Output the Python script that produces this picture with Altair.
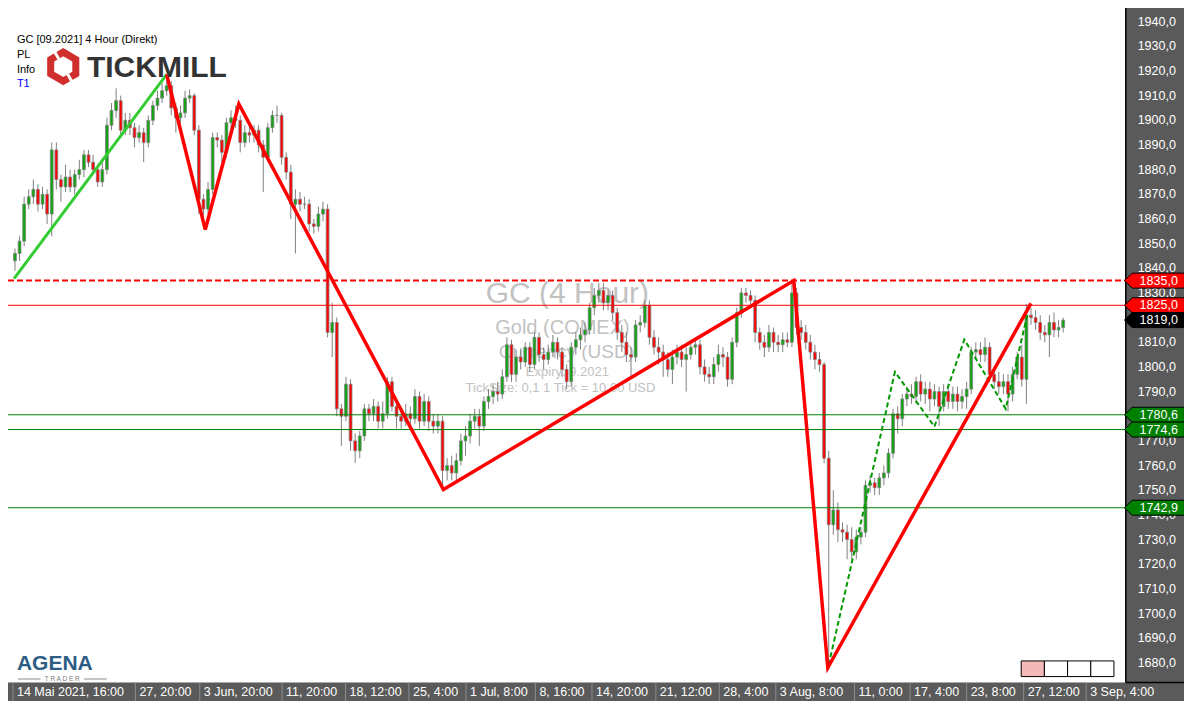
import altair as alt
import pandas as pd

# ---------------- chart values ----------------
first_open = 1843.0
closes = [
    1846, 1851, 1866, 1869, 1872, 1866, 1870, 1862, 1888, 1876,
    1873, 1877, 1873, 1878, 1880, 1886, 1883, 1880, 1875, 1880,
    1898, 1904, 1908, 1896, 1900, 1897, 1893, 1895, 1891, 1900,
    1906, 1909, 1912, 1914, 1905, 1901, 1903, 1909, 1910, 1896,
    1868, 1864, 1872, 1893, 1892, 1887, 1899, 1901, 1900, 1891,
    1895, 1894, 1896, 1890, 1885, 1897, 1902, 1902, 1885, 1879,
    1866, 1868, 1866, 1866, 1858, 1857, 1862, 1864, 1814, 1818,
    1783, 1780, 1793, 1770, 1766, 1772, 1783, 1781, 1784, 1778,
    1781, 1794, 1784, 1780, 1778, 1781, 1779, 1788, 1778, 1786,
    1778, 1776, 1778, 1758, 1760, 1757, 1762, 1770, 1772, 1778,
    1780, 1776, 1786, 1788, 1790, 1789, 1796, 1809, 1797, 1804,
    1802, 1808, 1801, 1812, 1805, 1803, 1806, 1810, 1806, 1799,
    1794, 1808, 1811, 1813, 1815, 1824, 1829, 1831, 1826, 1829,
    1822, 1814, 1810, 1805, 1804, 1817, 1818, 1825, 1812, 1808,
    1806, 1803, 1799, 1804, 1806, 1803, 1805, 1808, 1809, 1800,
    1797, 1796, 1801, 1805, 1804, 1795, 1810, 1822, 1830, 1829,
    1827, 1814, 1810, 1808, 1814, 1810, 1809, 1811, 1810, 1830,
    1816, 1814, 1810, 1806, 1803, 1801, 1763, 1736, 1742, 1734,
    1733, 1730, 1725, 1731, 1733, 1752, 1753, 1751, 1755, 1757,
    1765, 1781, 1779, 1787, 1789, 1788, 1794, 1789, 1791, 1787,
    1790, 1784, 1790, 1786, 1789, 1786, 1788, 1791, 1806, 1807,
    1805, 1808, 1797, 1794, 1792, 1794, 1789, 1797, 1804, 1795,
    1821, 1820, 1818, 1814, 1813, 1818, 1815, 1816, 1819,
]
upper_wick = [
    2, 2, 3, 3, 4, 2, 3, 2, 3, 3,
    2, 5, 3, 2, 4, 2, 2, 3, 2, 3,
    3, 3, 5, 2, 3, 3, 2, 3, 2, 2,
    2, 3, 3, 4.5, 2, 2, 3, 3, 2.5, 1,
    2, 2, 3, 2, 2, 2, 2, 3, 5, 2,
    3, 3, 2, 2, 2, 2, 2, 4, 1, 2,
    3, 4, 3, 3, 2, 2, 3, 3, 2, 8,
    2, 2, 3, 2, 3, 2, 2, 2, 3, 2,
    5, 2, 2, 2, 3, 4, 3, 3, 2, 3,
    2, 3, 3, 2, 3, 4, 3, 3, 4, 3,
    3, 3, 2, 3, 3, 4, 3, 3, 2, 3,
    3, 2, 2, 2, 2, 3, 3, 3, 2, 2,
    2, 2, 3, 3, 3, 2, 3, 3, 3, 2,
    2, 2, 3, 4, 3, 2, 3, 2, 2, 3,
    4, 3, 3, 3, 3, 3, 3, 3, 3, 2,
    3, 3, 3, 4, 3, 2, 2, 2, 2, 2,
    2, 2, 2, 3, 3, 2, 3, 3, 3, 5,
    2, 3, 3, 3, 3, 3, 1, 3, 8, 3,
    3, 3, 5, 3, 2, 2, 3, 2, 2, 3,
    2, 2, 3, 2, 3, 4, 2, 3, 3, 3,
    3, 2, 3, 3, 3, 3, 3, 3, 2, 3,
    3, 4, 2, 3, 4, 3, 3, 3, 2, 5,
    4.5, 3, 3, 3, 3, 3, 4, 3, 1,
]
lower_wick = [
    4, 3, 2, 2, 3, 3, 2, 4, 9, 4,
    6, 2, 2, 3, 2, 3, 2, 2, 2, 2,
    2, 2, 3, 3, 2, 3, 4, 2, 8, 2,
    2, 2, 2, 2, 3, 6, 2, 2, 2, 2,
    6, 8, 2, 2, 3, 4, 2, 3, 3, 4,
    2, 3, 3, 3, 14, 2, 2, 3, 3, 3,
    6, 20, 3, 2, 3, 3, 2, 3, 2, 10,
    3, 12, 2, 4, 5, 3, 2, 3, 3, 3,
    3, 2, 2, 5, 3, 2, 4, 2, 3, 2,
    4, 3, 3, 7, 4, 3, 3, 2, 6, 3,
    3, 8, 2, 3, 3, 3, 2, 2, 3, 3,
    3, 2, 3, 2, 3, 4, 2, 2, 3, 3,
    3, 2, 3, 4, 3, 2, 3, 3, 3, 3,
    3, 3, 4, 3, 8, 2, 3, 2, 3, 3,
    5, 7, 3, 6, 3, 3, 13, 2, 3, 3,
    3, 3, 3, 3, 4, 3, 2, 2, 2, 3,
    3, 4, 3, 4, 2, 4, 3, 3, 2, 2,
    3, 3, 3, 3, 4, 3, 2, 59, 4, 5,
    4, 8, 3, 3, 3, 2, 3, 3, 3, 3,
    2, 2, 6, 3, 3, 3, 3, 3, 4, 5,
    3, 8, 2, 3, 3, 4, 3, 5, 2, 3,
    3, 3, 3, 3, 3, 3, 7, 3, 2, 3,
    10, 3, 3, 3, 3, 9, 3, 3, 2,
]

level_prices = [1835.0, 1825.0, 1780.6, 1774.6, 1742.9]
level_colors = ["#ff0000", "#ff0000", "#008000", "#008000", "#008000"]
level_dashed = [True, False, False, False, False]

tag_prices = [1835.0, 1825.0, 1819.0, 1780.6, 1774.6, 1742.9]
tag_colors = ["#ff0000", "#ff0000", "#000000", "#008000", "#008000", "#008000"]

# 1820,0 is fully hidden behind the price tags in the reference
price_ticks = [1940, 1930, 1920, 1910, 1900, 1890, 1880, 1870, 1860, 1850, 1840,
               1830, 1810, 1800, 1790, 1780, 1770, 1760, 1750, 1740, 1730,
               1720, 1710, 1700, 1690, 1680]

time_tick_bars = [-0.43, 26.2, 40.2, 58.1, 71.9, 85.7, 98.1, 113.2, 125.5, 139.4,
                  153.2, 165.5, 182.6, 194.7, 207.0, 219.4, 233.0]
time_tick_labels = ["14 Mai 2021, 16:00", "27, 20:00", "3 Jun, 20:00", "11, 20:00",
                    "18, 12:00", "25, 4:00", "1 Jul, 8:00", "8, 16:00", "14, 20:00",
                    "21, 12:00", "28, 4:00", "3 Aug, 8:00", "11, 0:00", "17, 4:00",
                    "23, 8:00", "27, 12:00", "3 Sep, 4:00"]

zz_green_bars = [-0.2, 33.0]
zz_green_prices = [1835.8, 1918.6]
zz_red_bars = [33.0, 41.4, 48.7, 93.2, 169.4, 176.8, 221.0]
zz_red_prices = [1918.6, 1855.7, 1906.6, 1750.3, 1835.0, 1678.0, 1825.8]
zz_dash_bars = [177.0, 191.4, 200.0, 206.5, 215.5, 220.3]
zz_dash_prices = [1679.2, 1798.0, 1775.8, 1811.1, 1783.0, 1822.0]

# ---------------- layout ----------------
W, H = 1176, 693
REF_W, REF_H = 1192, 709
X0, DX = 2.0, 4.7


def px(x):
    return x * W / REF_W


def py(y):
    return y * H / REF_H


def bar_of(x):
    return (x - X0) / DX


P_TOP = 1940 + 14 / 2.523
P_BOT = 1940 - (REF_H - 14) / 2.523

xs = alt.Scale(domain=[bar_of(0), bar_of(REF_W)], nice=False, zero=False)
ys = alt.Scale(domain=[P_BOT, P_TOP], nice=False, zero=False)

FONT = "Liberation Sans"
GREEN = "#0ea60e"
RED = "#ff0000"
WICK = "#808080"

opens = [first_open] + closes[:-1]
candles = pd.DataFrame({
    "bar": list(range(len(closes))),
    "open": opens,
    "close": closes,
    "high": [max(o, c) + u for o, c, u in zip(opens, closes, upper_wick)],
    "low": [min(o, c) - l for o, c, l in zip(opens, closes, lower_wick)],
})

X = lambda f: alt.X(f"{f}:Q", scale=xs, axis=None)
Y = lambda f: alt.Y(f"{f}:Q", scale=ys, axis=None)

one = alt.Data(values=[{}])


def text_layer(txt, x, y, size, color, align="left", weight="normal", font=FONT, baseline="middle"):
    return alt.Chart(one).mark_text(
        text=txt, fontSize=size, color=color, align=align, baseline=baseline,
        font=font, fontWeight=weight
    ).encode(x=alt.value(px(x)), y=alt.value(py(y)))


layers = []

# watermark
wm = "#c2c2c2"
layers += [
    text_layer("GC (4 Hour)", 567, 293, 30, wm, align="center"),
    text_layer("Gold (COMEX)", 562, 327, 20, wm, align="center"),
    text_layer("Currency (USD)", 566, 352, 19, wm, align="center"),
    text_layer("Expiry: 9.2021", 567, 372, 13, wm, align="center"),
    text_layer("TickSize: 0,1   1 Tick = 10,00 USD", 560, 389, 13, wm, align="center"),
]

# candles
base = alt.Chart(candles)
layers.append(base.mark_rule(color=WICK, strokeWidth=1).encode(x=X("bar"), y=Y("low"), y2="high"))
layers.append(base.mark_bar(size=2.8, stroke=WICK, strokeWidth=0.8).encode(
    x=X("bar"), y=Y("open"), y2="close",
    fill=alt.condition(alt.datum.close >= alt.datum.open, alt.value(GREEN), alt.value(RED)),
))

# horizontal levels
lv = pd.DataFrame({"price": level_prices, "color": level_colors, "dashed": level_dashed})
layers.append(alt.Chart(lv[lv.dashed]).mark_rule(strokeWidth=2, strokeDash=[6, 3]).encode(
    y=Y("price"), color=alt.Color("color:N", scale=None)))
layers.append(alt.Chart(lv[~lv.dashed]).mark_rule(strokeWidth=1).encode(
    y=Y("price"), color=alt.Color("color:N", scale=None)))

# zigzags
def zz(bars, prices, color, width, dash=None):
    d = pd.DataFrame({"bar": bars, "price": prices, "k": list(range(len(bars)))})
    kw = dict(color=color, strokeWidth=width)
    if dash:
        kw["strokeDash"] = dash
    return alt.Chart(d).mark_line(**kw).encode(x=X("bar"), y=Y("price"), order="k:Q")


layers.append(zz(zz_green_bars, zz_green_prices, "#33cc33", 3))
layers.append(zz(zz_dash_bars, zz_dash_prices, "#009900", 2, [5, 3]))
layers.append(zz(zz_red_bars, zz_red_prices, "#ff0000", 3.5))

# right price panel and bottom time bar
PANEL = "#5a5a5a"
layers.append(alt.Chart(one).mark_rect(color=PANEL).encode(
    x=alt.value(px(1133)), x2=alt.value(W), y=alt.value(0), y2=alt.value(py(690))))
layers.append(alt.Chart(one).mark_rect(color=PANEL).encode(
    x=alt.value(0), x2=alt.value(W), y=alt.value(py(690)), y2=alt.value(H)))
layers.append(alt.Chart(one).mark_rule(color="black", strokeWidth=1.5).encode(
    x=alt.value(px(1133)), y=alt.value(0), y2=alt.value(py(690))))
layers.append(alt.Chart(one).mark_rule(color="black", strokeWidth=1.5).encode(
    x=alt.value(px(1133)), x2=alt.value(W), y=alt.value(py(690))))

pt = pd.DataFrame({"price": price_ticks,
                   "label": [f"{v:.1f}".replace(".", ",") for v in price_ticks]})
layers.append(alt.Chart(pt).mark_text(align="left", baseline="middle", color="white",
                                      fontSize=12.5, font=FONT).encode(
    x=alt.value(px(1145)), y=Y("price"), text="label:N"))

tt = pd.DataFrame({"bar": time_tick_bars, "label": time_tick_labels})
layers.append(alt.Chart(tt).mark_rule(color="#8c8c8c", strokeWidth=1).encode(
    x=X("bar"), y=alt.value(py(690)), y2=alt.value(H)))
layers.append(alt.Chart(tt).mark_text(align="left", baseline="middle", color="white",
                                      fontSize=12.5, font=FONT, dx=4).encode(
    x=X("bar"), y=alt.value(py(700)), text="label:N"))

# price tags on the axis
TAG = "M -1 0 L -0.74 -0.25 L 1 -0.25 L 1 0.25 L -0.74 0.25 Z"
tg = pd.DataFrame({"price": tag_prices, "color": tag_colors,
                   "label": [f"{v:.1f}".replace(".", ",") for v in tag_prices]})
layers.append(alt.Chart(tg).mark_point(shape=TAG, filled=True, size=3600, opacity=1,
                                       stroke="black", strokeWidth=1).encode(
    x=alt.value(px(1162)), y=Y("price"), fill=alt.Fill("color:N", scale=None)))
layers.append(alt.Chart(tg).mark_text(align="left", baseline="middle", color="white",
                                      fontSize=12.5, font=FONT).encode(
    x=alt.value(px(1147)), y=Y("price"), text="label:N"))

# top-left info texts
layers += [
    text_layer("GC [09.2021] 4 Hour (Direkt)", 9, 33, 11, "black"),
    text_layer("PL", 9, 48, 11, "black"),
    text_layer("Info", 9, 63, 11, "black"),
    text_layer("T1", 9, 78, 11, "#0000ff"),
]

# Tickmill logo
HEX = "M 0 -1 L 0.866 -0.5 L 0.866 0.5 L 0 1 L -0.866 0.5 L -0.866 -0.5 Z"
layers.append(alt.Chart(one).mark_point(shape=HEX, filled=False, size=841, opacity=1,
                                        stroke="#d12e2e", strokeWidth=7).encode(
    x=alt.value(px(56)), y=alt.value(py(60))))
for (xa, ya, xb, yb) in [(51.5, 52.2, 45.5, 41.8), (60.5, 67.8, 66.5, 78.2)]:
    layers.append(alt.Chart(one).mark_rule(color="white", strokeWidth=3).encode(
        x=alt.value(px(xa)), y=alt.value(py(ya)), x2=alt.value(px(xb)), y2=alt.value(py(yb))))
layers.append(text_layer("TICKMILL", 80, 61, 30, "#333333", weight="bold"))

# Agena trader logo
layers.append(text_layer("AGENA", 9, 671, 21, "#2d5d84", weight="bold"))
layers.append(text_layer("T R A D E R", 55, 686.5, 6.5, "#7a7a7a", align="center"))
for (xa, xb) in [(10, 33), (77, 100)]:
    layers.append(alt.Chart(one).mark_rule(color="#8a8a8a", strokeWidth=1).encode(
        x=alt.value(px(xa)), x2=alt.value(px(xb)), y=alt.value(py(686.5))))

# small box bottom right
box = pd.DataFrame({
    "x0": [px(1027 + 23.5 * k) for k in range(4)],
    "x1": [px(1027 + 23.5 * (k + 1)) for k in range(4)],
    "fill": ["#f5b8b8", "white", "white", "white"],
})
layers.append(alt.Chart(box).mark_rect(stroke="black", strokeWidth=1).encode(
    x=alt.X("x0:Q", scale=None), x2="x1:Q",
    y=alt.value(py(668)), y2=alt.value(py(684)),
    fill=alt.Fill("fill:N", scale=None)))

chart = alt.layer(*layers).properties(
    width=W, height=H, autosize=alt.AutoSizeParams(type="none"), padding=0,
    background="white",
).configure_view(stroke=None)

chart.save("out.html", embed_options={"renderer": "svg", "actions": False})
